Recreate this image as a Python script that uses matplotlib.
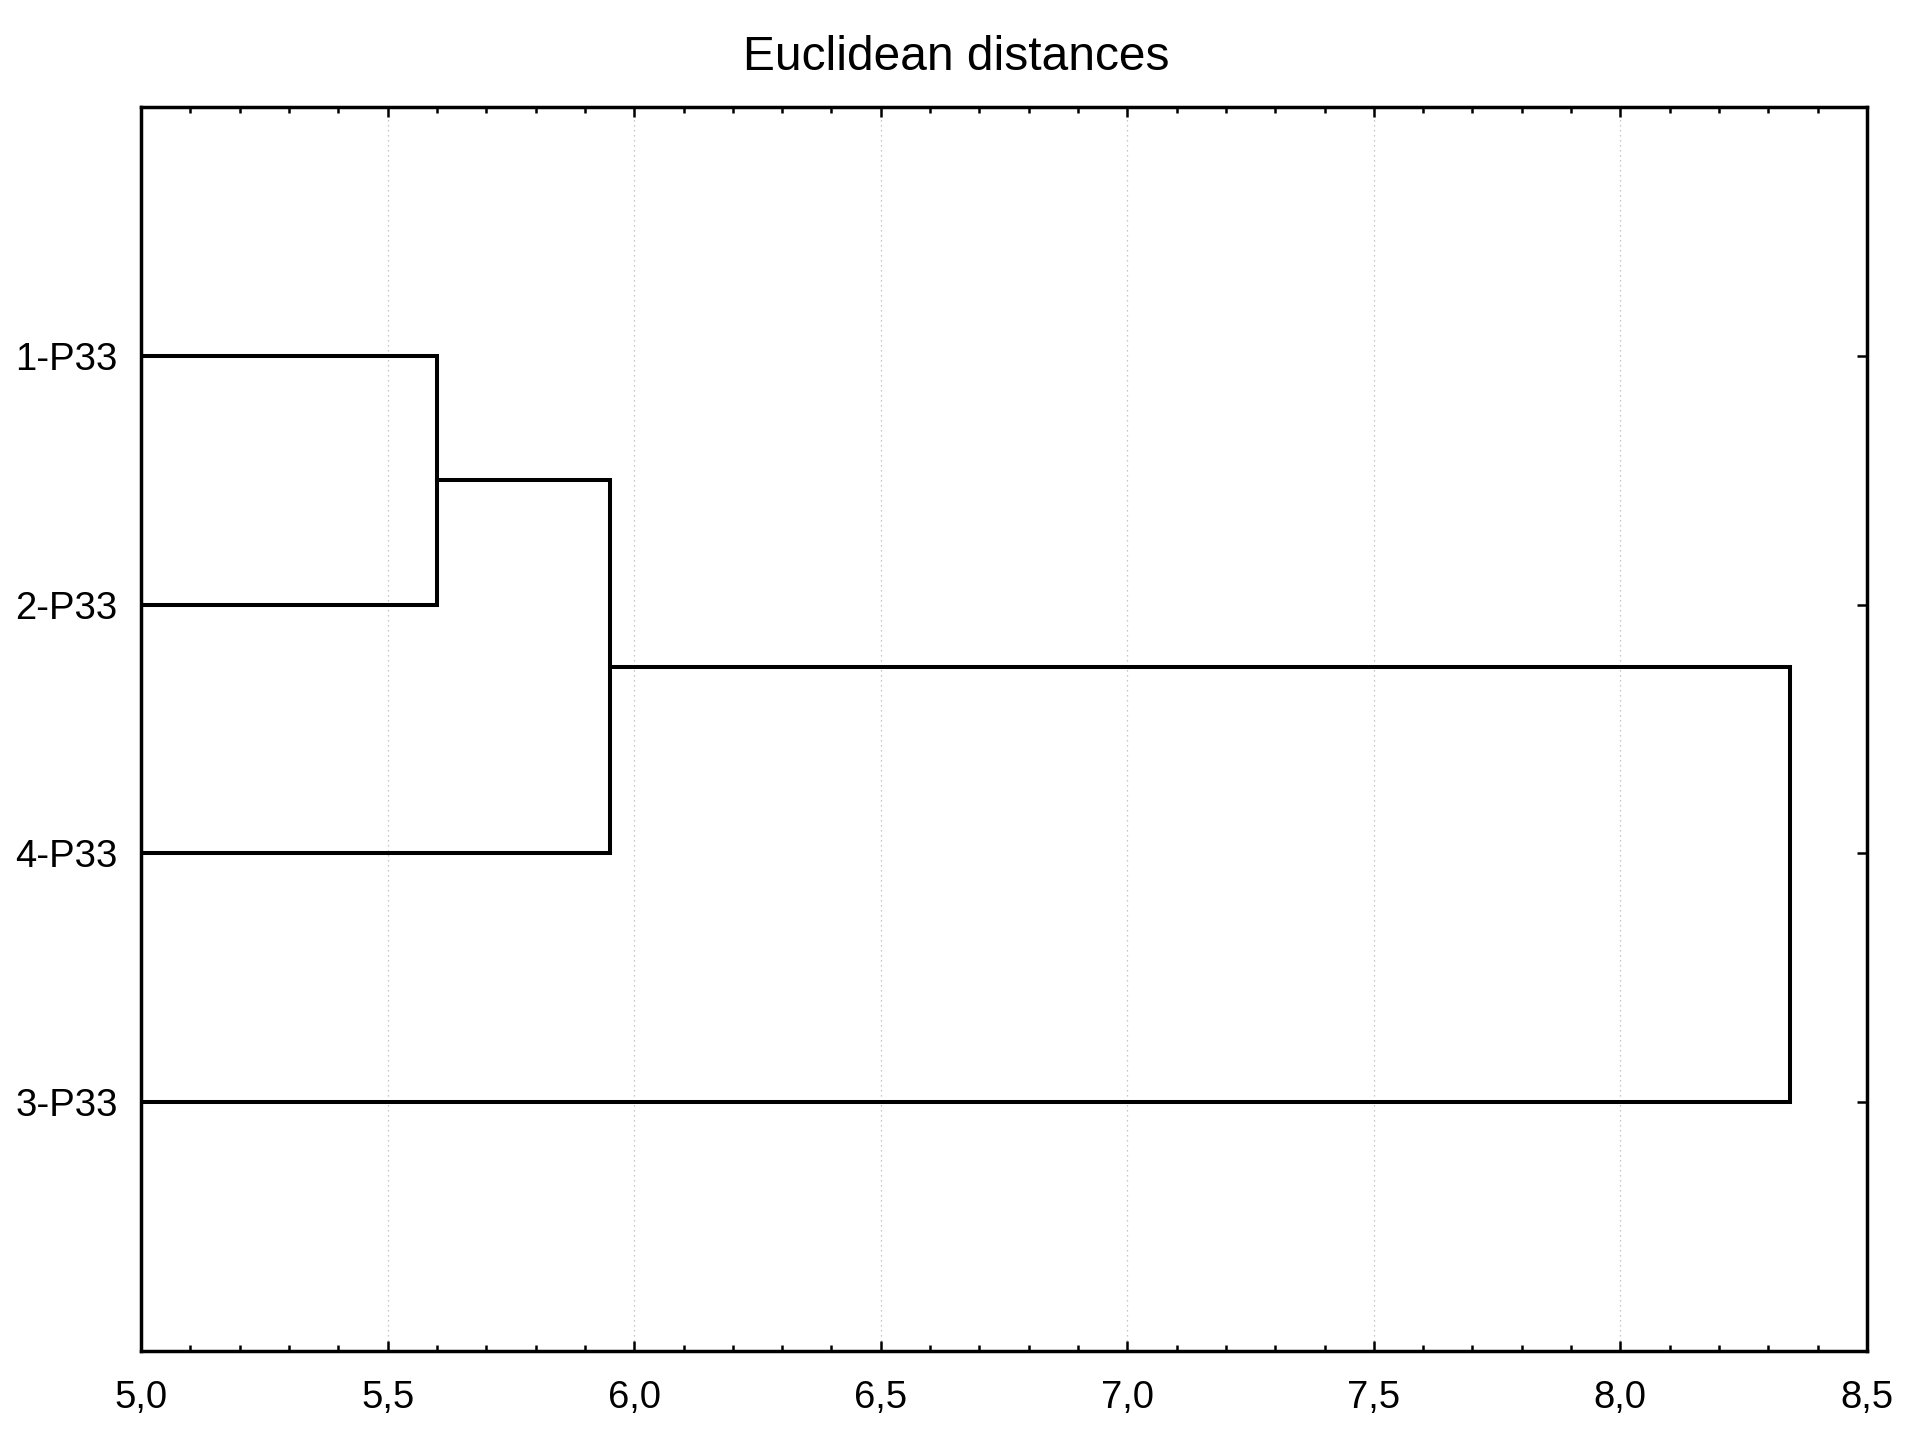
import matplotlib
matplotlib.use("Agg")
import matplotlib.pyplot as plt
import numpy as np
from matplotlib.ticker import MultipleLocator, FuncFormatter

plt.rcParams["font.family"] = ["Liberation Sans", "DejaVu Sans"]

# leaves, listed top to bottom as in the tree
leaf_labels = ["1-P33", "2-P33", "4-P33", "3-P33"]
# merges: cluster ids (0-3 leaves, 4.. new clusters) and linkage distance
merge_a = [0, 4, 5]
merge_b = [1, 2, 3]
merge_dist = [5.60, 5.95, 8.345]

x_min, x_max = 5.0, 8.5

fig = plt.figure(figsize=(19.13, 14.31), dpi=100)
ax = fig.add_axes([0.0738, 0.0559, 0.9021, 0.8693])

# node positions: leaves at 1..n, heights 0 (clipped at the axis start)
pos = list(np.arange(1, len(leaf_labels) + 1, dtype=float))
height = [0.0] * len(leaf_labels)
for a, b, d in zip(merge_a, merge_b, merge_dist):
    ax.plot([height[a], d, d, height[b]], [pos[a], pos[a], pos[b], pos[b]],
            color="black", lw=2.9, solid_joinstyle="miter", zorder=3)
    pos.append((pos[a] + pos[b]) / 2)
    height.append(d)

ax.set_xlim(x_min, x_max)
ax.set_ylim(len(leaf_labels) + 1, 0)

ax.xaxis.set_major_locator(MultipleLocator(0.5))
ax.xaxis.set_minor_locator(MultipleLocator(0.1))
ax.xaxis.set_major_formatter(FuncFormatter(lambda v, p: f"{v:.1f}".replace(".", ",")))
ax.set_yticks(np.arange(1, len(leaf_labels) + 1))
ax.set_yticklabels(leaf_labels)

ax.tick_params(which="both", direction="in", top=True, right=True, width=1.8, colors="black")
ax.tick_params(which="major", length=7.5)
ax.tick_params(which="minor", length=4)
ax.tick_params(axis="x", which="major", pad=21, labelsize=27.5)
ax.tick_params(axis="y", which="major", pad=17, labelsize=27.5)

for s in ax.spines.values():
    s.set_linewidth(2.5)
ax.grid(axis="x", which="major", color="#b8b0c8", ls=(0, (1, 3)), lw=0.9)
ax.set_axisbelow(True)

fig.text(0.5, 1 - 70 / 1431, "Euclidean distances", ha="center", va="baseline", fontsize=34.5)

fig.savefig("out.png", dpi=100)
